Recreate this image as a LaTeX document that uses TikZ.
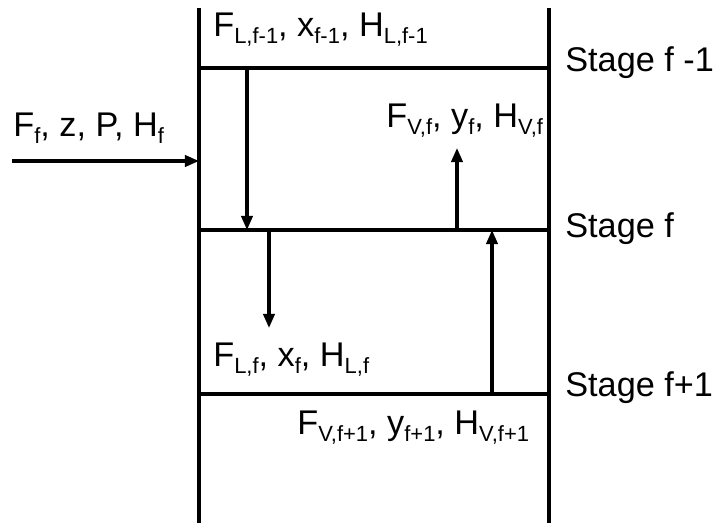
\documentclass[tikz,border=0pt]{standalone}
\usepackage{fontspec}
\setmainfont{Liberation Sans}
\usetikzlibrary{arrows.meta}

\newcommand{\subtxt}[1]{\raisebox{-0.2em}{\fontsize{12.5}{14}\selectfont #1}}

\begin{document}
\begin{tikzpicture}[
  x=0.02cm, y=-0.02cm,
  line cap=butt,
  font=\fontsize{19.5}{23}\selectfont,
  wall/.style={draw=black, line width=2.1pt},
  stream/.style={-{Triangle[length=8pt,width=6.4pt]}, line width=1.8pt, draw=black},
  lbl/.style={anchor=base west, inner sep=0pt}
]

\def\xL{199}
\def\xR{549}
\def\yA{68}
\def\yB{230}
\def\yC{394}

\useasboundingbox (0,0) rectangle (714,526);

% Column walls and stage trays.
\draw[wall] (\xL,8) -- (\xL,523);
\draw[wall] (\xR,8) -- (\xR,523);
\draw[wall] (\xL,\yA) -- (\xR,\yA);
\draw[wall] (\xL,\yB) -- (\xR,\yB);
\draw[wall] (\xL,\yC) -- (\xR,\yC);

% Stage names.
\node[lbl] (stageUp) at (565,72) {Stage f -1};
\node[lbl] (stageF) at (565,238) {Stage f};
\node[lbl] (stageDown) at (565,397) {Stage f+1};

% Stream labels.
\node[lbl] (feedLabel) at (13,137) {F\subtxt{f}, z, P, H\subtxt{f}};
\node[lbl] (liqIn) at (213,37) {F\subtxt{L,f-1}, x\subtxt{f-1}, H\subtxt{L,f-1}};
\node[lbl] (vapOut) at (386,128) {F\subtxt{V,f}, y\subtxt{f}, H\subtxt{V,f}};
\node[lbl] (liqOut) at (213,367) {F\subtxt{L,f}, x\subtxt{f}, H\subtxt{L,f}};
\node[lbl] (vapIn) at (297,435) {F\subtxt{V,f+1}, y\subtxt{f+1}, H\subtxt{V,f+1}};

% Arrow end points.
\coordinate (feedStart) at (12,161);
\coordinate (feedEnd) at (\xL,161);
\coordinate (liqInTop) at (247,\yA);
\coordinate (liqInEnd) at (247,\yB);
\coordinate (liqOutTop) at (269,\yB);
\coordinate (liqOutEnd) at (269,328);
\coordinate (vapOutBase) at (457,\yB);
\coordinate (vapOutEnd) at (457,148);
\coordinate (vapInBase) at (492,\yC);
\coordinate (vapInEnd) at (492,\yB);

% Streams.
\draw[stream] (feedStart) -- (feedEnd);
\draw[stream] (liqInTop) -- (liqInEnd);
\draw[stream] (liqOutTop) -- (liqOutEnd);
\draw[stream] (vapOutBase) -- (vapOutEnd);
\draw[stream] (vapInBase) -- (vapInEnd);

\end{tikzpicture}
\end{document}
